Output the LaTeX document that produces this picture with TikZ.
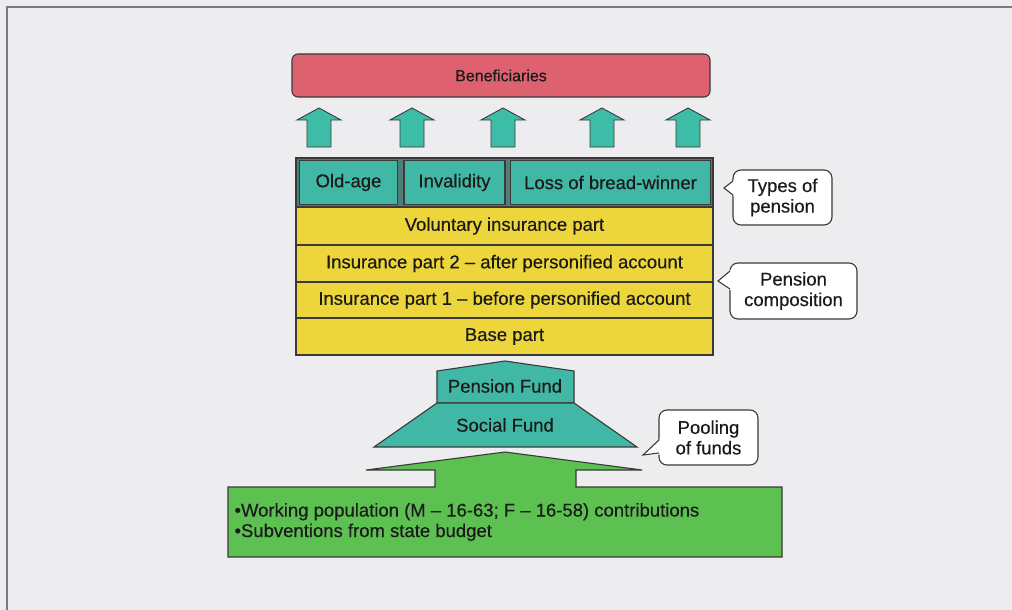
\documentclass[tikz,border=0pt]{standalone}
\usepackage{fontspec}
\setmainfont{Liberation Sans}
\newfontfamily\diafont[Ligatures=TeX,FakeBold=0.35]{Liberation Sans}
\definecolor{bg}{HTML}{EDECEF}
\definecolor{framec}{HTML}{7A7A7E}
\definecolor{edge}{HTML}{3A3A3A}
\definecolor{txt}{HTML}{1A1A1A}
\definecolor{benred}{HTML}{DE6170}
\definecolor{tealc}{HTML}{41B8A6}
\definecolor{tealdk}{HTML}{4E7E76}
\definecolor{arrowteal}{HTML}{3DBDA7}
\definecolor{yel}{HTML}{EDD63B}
\definecolor{grn}{HTML}{5DC152}
\begin{document}
\begin{tikzpicture}[x=1pt,y=-1pt,
  lbl/.style={font=\diafont\fontsize{18.5}{20.5}\selectfont, text=txt},
  box/.style={draw=edge, line width=1.1pt},
  rowbox/.style={box, lbl, fill=yel, minimum width=417pt, inner sep=0pt},
  typebox/.style={box, lbl, fill=tealc, minimum height=44pt, inner sep=0pt},
  blockarrow/.style={draw=edge, line width=0.9pt, fill=arrowteal},
  callbox/.style={box, lbl, fill=white, rounded corners=8pt, align=center, inner sep=0pt},
  notch/.style={draw=edge, line width=1.1pt}]
\useasboundingbox (0,0) rectangle (1012,610);
\fill[bg] (0,0) rectangle (1012,610);
\draw[framec, line width=1.2pt] (7,610) -- (7,7) -- (1012,7);

% Beneficiaries
\node[box, fill=benred, rounded corners=6pt, minimum width=418pt, minimum height=43pt,
      font=\diafont\fontsize{16}{18}\selectfont, text=txt] (ben) at (501,75.5) {Beneficiaries};

% up arrows
\foreach \c in {319,412,503,602,688}{
  \draw[blockarrow] (\c-12,147) -- (\c-12,120) -- (\c-22,120) -- (\c,108)
        -- (\c+22,120) -- (\c+12,120) -- (\c+12,147) -- cycle;
}

% types of pension row
\node[box, fill=tealdk, minimum width=417pt, minimum height=49pt, inner sep=0pt] (types) at (504.5,182.5) {};
\node[typebox, minimum width=98pt] (old) at (348.5,182.5) {Old-age};
\node[typebox, minimum width=101pt] (inv) at (454.5,182.5) {Invalidity};
\node[typebox, minimum width=200pt] (loss) at (610.5,182.5) {Loss of bread-winner};

% pension composition rows
\node[rowbox, minimum height=38pt] (vol) at (504.5,226) {Voluntary insurance part};
\node[rowbox, minimum height=37pt] (p2) at (504.5,263.5) {Insurance part 2 – after personified account};
\node[rowbox, minimum height=36pt] (p1) at (504.5,300) {Insurance part 1 – before personified account};
\node[rowbox, minimum height=37pt] (base) at (504.5,336.5) {Base part};

% funds
\draw[box, fill=tealc] (437,403) -- (437,371) -- (505,361) -- (574,371) -- (574,403) -- cycle;
\node[lbl] (pf) at (505,386) {Pension Fund};
\draw[box, fill=tealc] (437,403) -- (574,403) -- (637,447) -- (374,447) -- cycle;
\node[lbl] (sf) at (505,425) {Social Fund};

% contributions (green arrow + box)
\draw[box, fill=grn] (228,487) -- (435,487) -- (435,470) -- (366,470) -- (505,452)
      -- (642,470) -- (576,470) -- (576,487) -- (782,487) -- (782,557) -- (228,557) -- cycle;
\node[lbl, anchor=west, align=left] (contrib) at (231,522)
  {•Working population (M – 16-63; F – 16-58) contributions\\•Subventions from state budget};

% callouts
\node[callbox, minimum width=99pt, minimum height=55pt] (c1) at (782.5,197.5) {Types of\\pension};
\coordinate (t1) at (724,188);
\fill[white] (t1) -- (734.6,179.5) -- (734.6,196.5) -- cycle;
\draw[notch] (733,181) -- (t1) -- (733,195);

\node[callbox, minimum width=127pt, minimum height=56pt] (c2) at (793.5,291) {Pension\\composition};
\coordinate (t2) at (718,281);
\fill[white] (t2) -- (731.6,269) -- (731.6,291) -- cycle;
\draw[notch] (730,271) -- (t2) -- (730,289);

\node[callbox, minimum width=99pt, minimum height=55pt] (c3) at (708.5,437.5) {Pooling\\of funds};
\coordinate (t3) at (643,455);
\fill[white] (t3) -- (660.6,438.5) -- (660.6,454.5) -- cycle;
\draw[notch] (659,440) -- (t3) -- (659,453);
\end{tikzpicture}
\end{document}
